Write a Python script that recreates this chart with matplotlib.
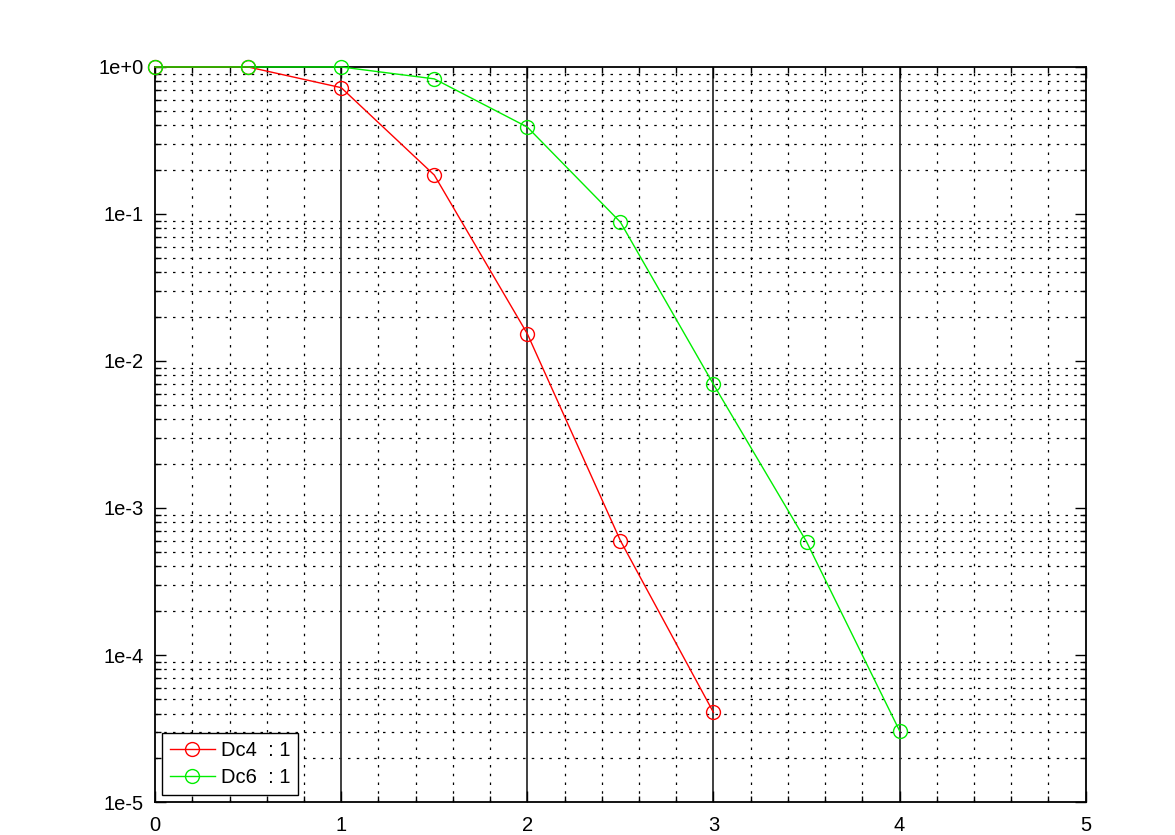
import matplotlib
matplotlib.use("Agg")
import matplotlib.pyplot as plt
from matplotlib.ticker import FixedLocator, FixedFormatter, MultipleLocator
import numpy as np

plt.rcParams['font.family'] = ['Liberation Sans', 'DejaVu Sans']

xDc4 = [0, 0.5, 1, 1.5, 2, 2.5, 3]
yDc4 = [1.0, 1.0, 0.723, 0.184, 0.0153, 6.0e-4, 4.07e-5]
xDc6 = [0, 0.5, 1, 1.5, 2, 2.5, 3, 3.5, 4]
yDc6 = [1.0, 1.0, 1.0, 0.83, 0.39, 0.088, 6.94e-3, 5.9e-4, 3.05e-5]
labels = ["Dc4  : 1", "Dc6  : 1"]
yTicks = [1e-5, 1e-4, 1e-3, 1e-2, 1e-1, 1e0]
yTickLabels = ["1e-5", "1e-4", "1e-3", "1e-2", "1e-1", "1e+0"]

fig = plt.figure(figsize=(11.75, 8.35), dpi=100)
ax = fig.add_axes([0.132, 0.0395, 0.792, 0.8803])
ax.set_yscale("log")
ax.set_xlim(0, 5)
ax.set_ylim(1e-5, 1)

# minor grid
minorY = [m * 10.0 ** e for e in range(-5, 0) for m in range(2, 10)]
for yv in minorY:
    ax.axhline(yv, color="black", linestyle=(0, (2, 5)), linewidth=0.9, zorder=1)
for xv in np.arange(0.2, 5, 0.2):
    if abs(xv - round(xv)) > 1e-6:
        ax.axvline(xv, color="black", linestyle=(0, (2, 5)), linewidth=0.9, zorder=1)
for xv in [1, 2, 3, 4]:
    ax.axvline(xv, color="#303030", linewidth=1.3, zorder=1)

ax.plot(xDc4, yDc4, color="#ff0000", marker="o", markersize=10, markerfacecolor="none",
        linewidth=1.0, label=labels[0], zorder=5, clip_on=False)
ax.plot(xDc6, yDc6, color="#00ee00", marker="o", markersize=10, markerfacecolor="none",
        linewidth=1.0, label=labels[1], zorder=5, clip_on=False)

ax.yaxis.set_major_locator(FixedLocator(yTicks))
ax.yaxis.set_major_formatter(FixedFormatter(yTickLabels))
ax.yaxis.set_minor_locator(FixedLocator(minorY))
ax.xaxis.set_major_locator(MultipleLocator(1))
ax.xaxis.set_minor_locator(MultipleLocator(0.2))
ax.tick_params(which="both", direction="in", top=True, right=True, labelsize=14.5)
ax.tick_params(which="major", length=8, width=1)
ax.tick_params(which="minor", length=4, width=1)
ax.tick_params(axis="y", pad=8)
ax.tick_params(axis="x", pad=10)
for s in ax.spines.values():
    s.set_linewidth(1.3)
    s.set_zorder(4)

leg = ax.legend(loc="lower left", fontsize=14.5, fancybox=False, framealpha=1,
                edgecolor="black", borderaxespad=0.35, handlelength=2.2,
                handletextpad=0.3, borderpad=0.4, labelspacing=0.4)
leg.get_frame().set_linewidth(1.0)

plt.savefig("out.png")
